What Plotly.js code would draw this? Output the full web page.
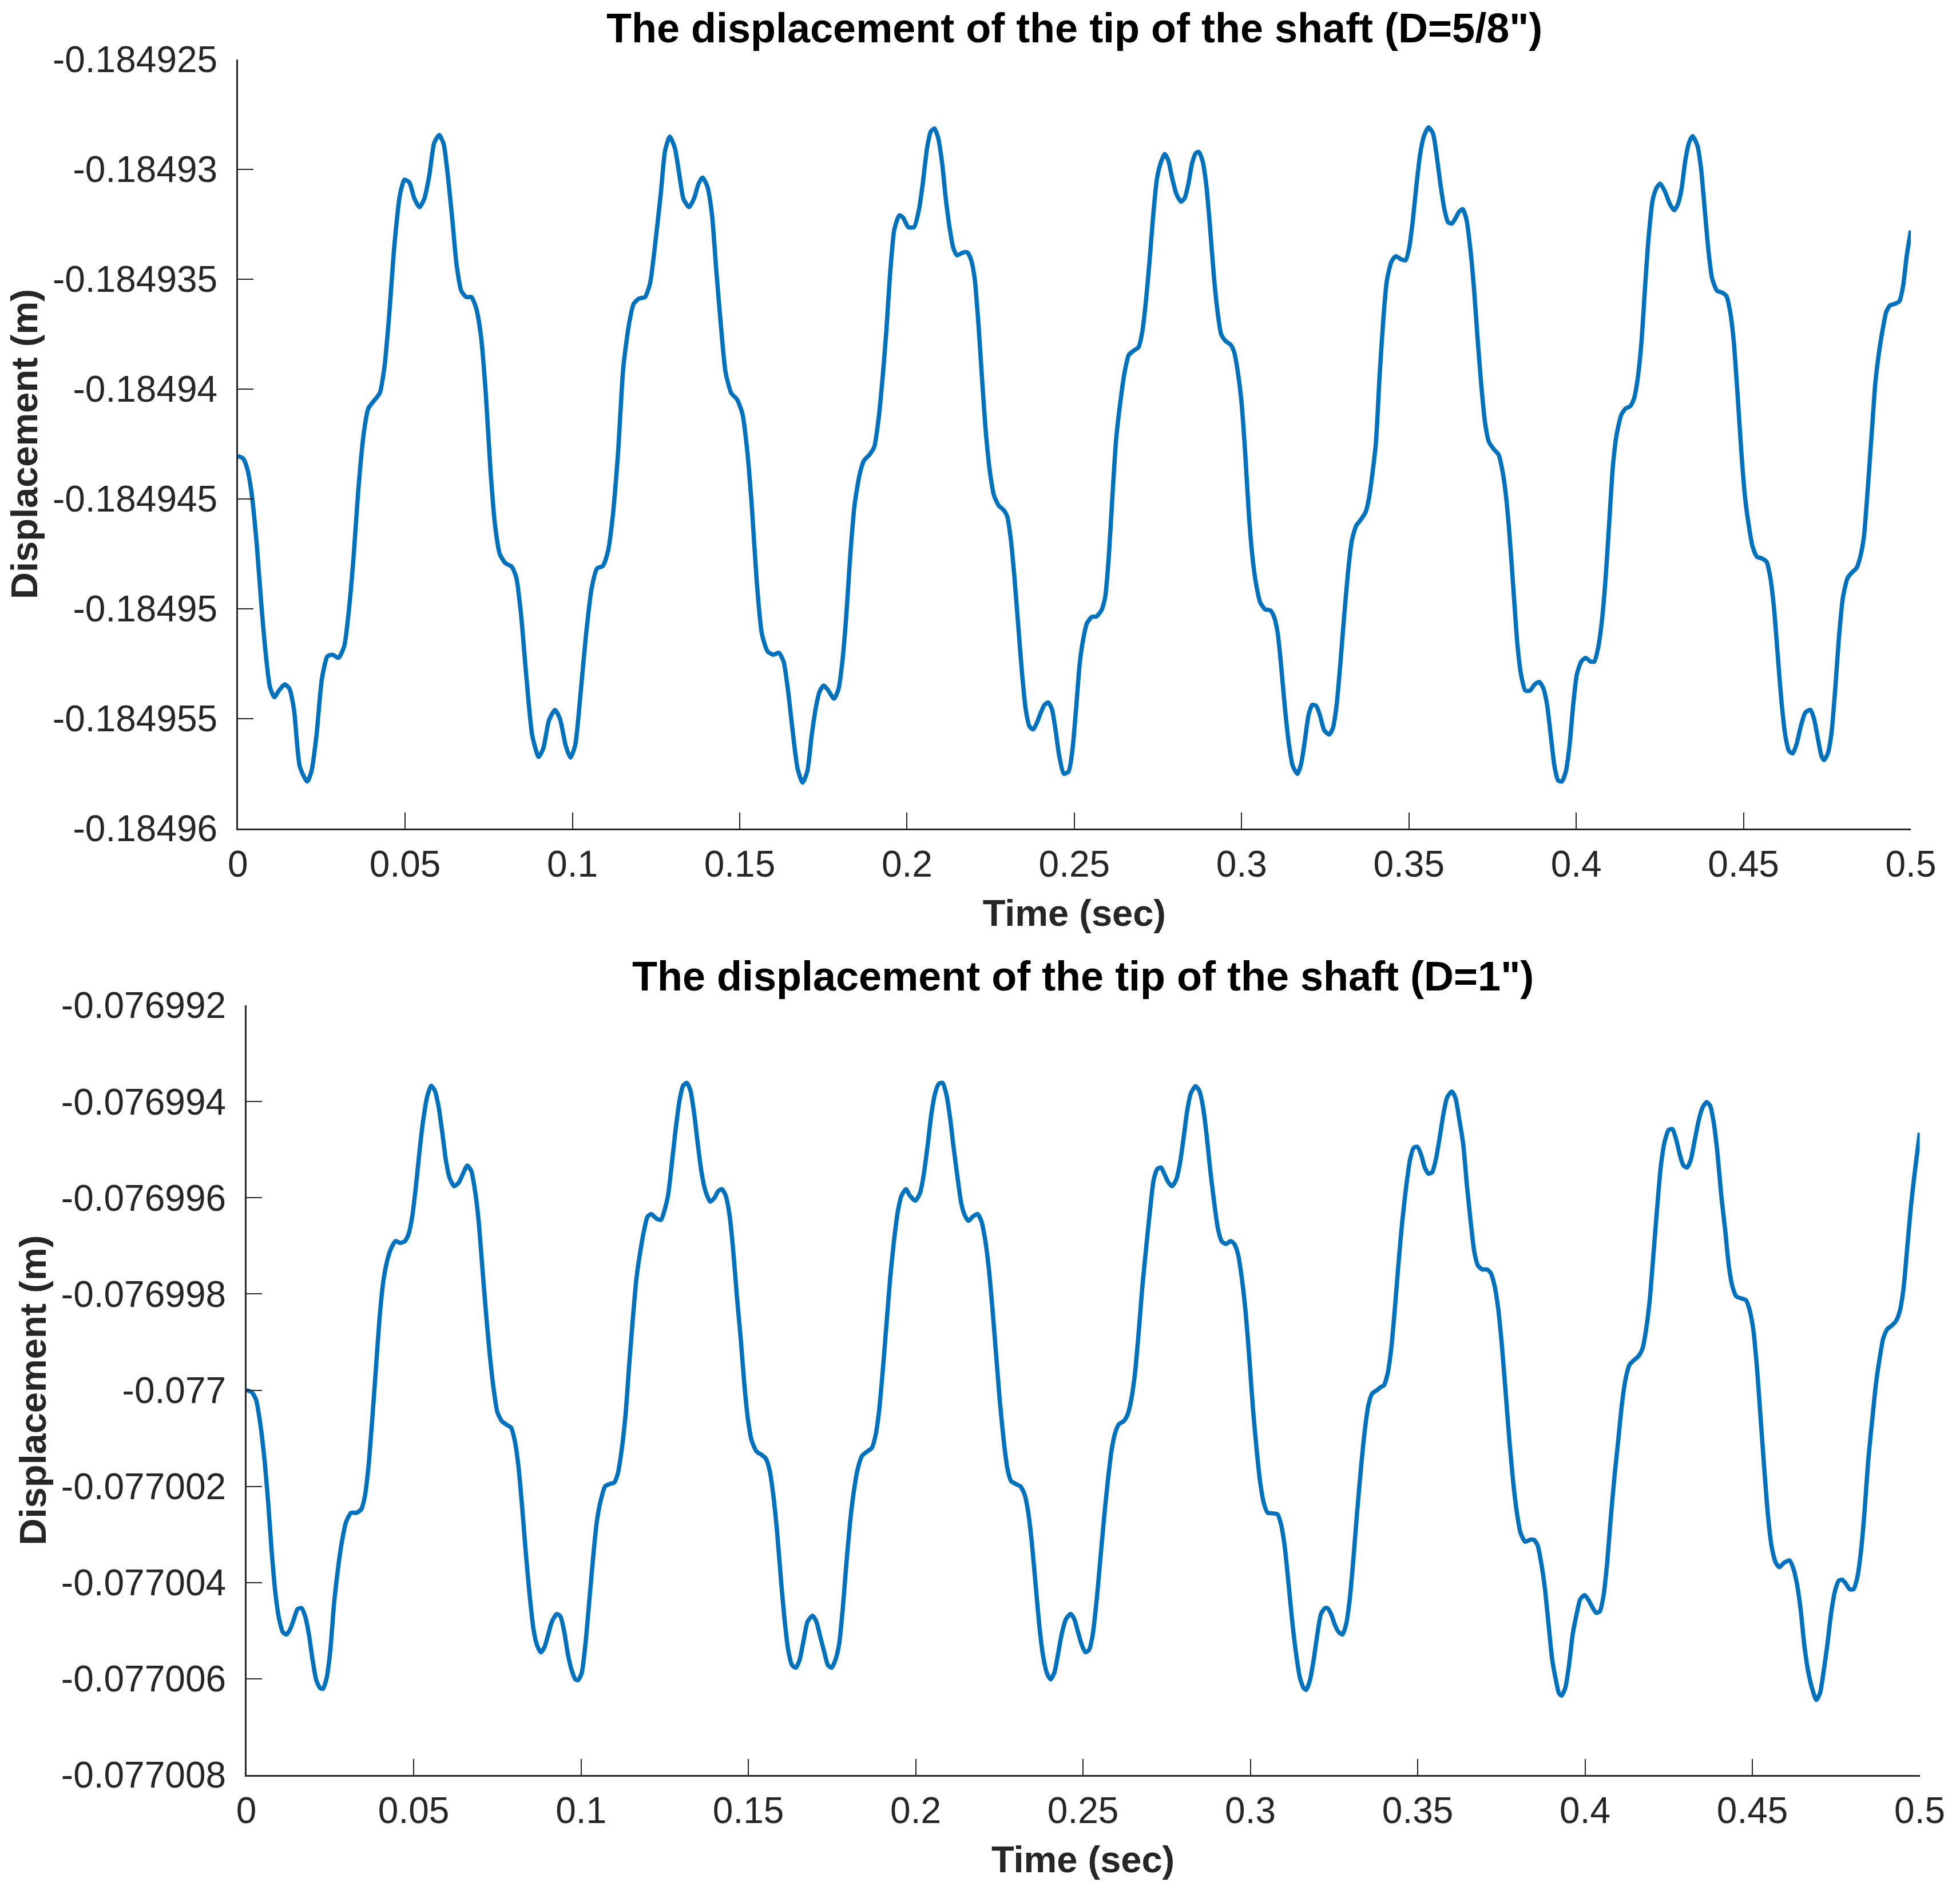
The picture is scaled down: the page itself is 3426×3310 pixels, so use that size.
<!DOCTYPE html>
<html>
<head>
<meta charset="utf-8">
<script src="https://cdn.plot.ly/plotly-3.0.1.min.js"></script>
<style>
  html, body { margin: 0; padding: 0; background: #fff; }
  #chart { width: 3426px; height: 3310px; }
</style>
</head>
<body>
<div id="chart"></div>
<script>
// time axis of the D=5/8" curve (sec)
var tTop = [
  0, 0.0016, 0.0029, 0.0042, 0.0057, 0.0071, 0.0085, 0.0096, 0.0109, 0.0123, 0.0140, 0.0154, 0.0168, 0.0185, 0.0207, 0.0220,
  0.0235, 0.0251, 0.0268, 0.0283, 0.0301, 0.0318, 0.0331, 0.0346, 0.0360, 0.0376, 0.0390, 0.0407, 0.0424, 0.0438, 0.0452, 0.0468,
  0.0485, 0.0498, 0.0513, 0.0527, 0.0543, 0.0557, 0.0572, 0.0587, 0.0602, 0.0615, 0.0627, 0.0641, 0.0654, 0.0668, 0.0683, 0.0698,
  0.0713, 0.0727, 0.0741, 0.0755, 0.0769, 0.0783, 0.0799, 0.0819, 0.0832, 0.0846, 0.0863, 0.0880, 0.0899, 0.0913, 0.0930, 0.0948,
  0.0963, 0.0980, 0.0994, 0.1008, 0.1024, 0.1041, 0.1058, 0.1074, 0.1091, 0.1106, 0.1119, 0.1136, 0.1152, 0.1169, 0.1183, 0.1199,
  0.1217, 0.1232, 0.1247, 0.1264, 0.1277, 0.1291, 0.1306, 0.1319, 0.1332, 0.1349, 0.1364, 0.1377, 0.1389, 0.1403, 0.1417, 0.1430,
  0.1444, 0.1458, 0.1475, 0.1492, 0.1508, 0.1522, 0.1536, 0.1551, 0.1566, 0.1583, 0.1600, 0.1617, 0.1631, 0.1644, 0.1658, 0.1673,
  0.1688, 0.1702, 0.1715, 0.1729, 0.1740, 0.1751, 0.1765, 0.1782, 0.1795, 0.1806, 0.1818, 0.1829, 0.1843, 0.1858, 0.1871, 0.1888,
  0.1902, 0.1915, 0.1927, 0.1938, 0.1949, 0.1962, 0.1977, 0.1988, 0.2004, 0.2021, 0.2036, 0.2047, 0.2060, 0.2071, 0.2082, 0.2093,
  0.2105, 0.2116, 0.2127, 0.2138, 0.2149, 0.2166, 0.2180, 0.2191, 0.2202, 0.2214, 0.2225, 0.2236, 0.2249, 0.2260, 0.2274, 0.2288,
  0.2299, 0.2310, 0.2321, 0.2333, 0.2344, 0.2355, 0.2366, 0.2377, 0.2388, 0.2400, 0.2411, 0.2422, 0.2433, 0.2444, 0.2455, 0.2469,
  0.2483, 0.2494, 0.2505, 0.2516, 0.2527, 0.2538, 0.2552, 0.2566, 0.2581, 0.2592, 0.2603, 0.2614, 0.2625, 0.2639, 0.2650, 0.2663,
  0.2677, 0.2692, 0.2703, 0.2714, 0.2725, 0.2736, 0.2747, 0.2759, 0.2770, 0.2781, 0.2792, 0.2805, 0.2819, 0.2830, 0.2841, 0.2852,
  0.2863, 0.2872, 0.2883, 0.2894, 0.2905, 0.2917, 0.2928, 0.2939, 0.2952, 0.2967, 0.2978, 0.2989, 0.3000, 0.3011, 0.3022, 0.3034,
  0.3045, 0.3056, 0.3070, 0.3086, 0.3097, 0.3108, 0.3119, 0.3130, 0.3142, 0.3153, 0.3167, 0.3178, 0.3189, 0.3200, 0.3211, 0.3223,
  0.3234, 0.3247, 0.3262, 0.3273, 0.3284, 0.3295, 0.3306, 0.3318, 0.3329, 0.3342, 0.3356, 0.3371, 0.3382, 0.3401, 0.3412, 0.3423,
  0.3434, 0.3448, 0.3461, 0.3476, 0.3490, 0.3501, 0.3512, 0.3523, 0.3534, 0.3546, 0.3559, 0.3572, 0.3583, 0.3594, 0.3606, 0.3617,
  0.3628, 0.3639, 0.3650, 0.3661, 0.3672, 0.3684, 0.3695, 0.3706, 0.3717, 0.3728, 0.3739, 0.3754, 0.3768, 0.3779, 0.3790, 0.3801,
  0.3813, 0.3824, 0.3835, 0.3848, 0.3862, 0.3876, 0.3890, 0.3902, 0.3913, 0.3924, 0.3935, 0.3946, 0.3957, 0.3969, 0.3980, 0.3991,
  0.4002, 0.4015, 0.4028, 0.4043, 0.4054, 0.4065, 0.4076, 0.4087, 0.4098, 0.4110, 0.4121, 0.4135, 0.4148, 0.4162, 0.4173, 0.4184,
  0.4195, 0.4206, 0.4217, 0.4229, 0.4240, 0.4251, 0.4265, 0.4280, 0.4293, 0.4304, 0.4315, 0.4326, 0.4337, 0.4348, 0.4362, 0.4373,
  0.4384, 0.4395, 0.4406, 0.4421, 0.4435, 0.4449, 0.4460, 0.4471, 0.4482, 0.4493, 0.4504, 0.4516, 0.4527, 0.4540, 0.4554, 0.4569,
  0.4580, 0.4591, 0.4602, 0.4613, 0.4625, 0.4636, 0.4647, 0.4658, 0.4672, 0.4685, 0.4700, 0.4711, 0.4722, 0.4733, 0.4741, 0.4752,
  0.4763, 0.4774, 0.4785, 0.4797, 0.4811, 0.4825, 0.4838, 0.4849, 0.4860, 0.4871, 0.4883, 0.4894, 0.4905, 0.4916, 0.4927, 0.4938,
  0.4952, 0.4966, 0.4977, 0.4988, 0.5000
];
// tip displacement, D=5/8" (m)
var yTop = [
  -0.18494305, -0.18494316, -0.18494367, -0.18494484, -0.18494716, -0.18494995, -0.18495228, -0.18495356, -0.18495402, -0.18495372, -0.18495344, -0.18495363, -0.18495460, -0.18495716, -0.18495786, -0.18495740,
  -0.18495577, -0.18495321, -0.18495216, -0.18495209, -0.18495223, -0.18495170, -0.18495019, -0.18494763, -0.18494460, -0.18494205, -0.18494088, -0.18494053, -0.18494019, -0.18493902, -0.18493670, -0.18493344,
  -0.18493112, -0.18493047, -0.18493060, -0.18493130, -0.18493172, -0.18493135, -0.18493030, -0.18492879, -0.18492844, -0.18492884, -0.18493019, -0.18493228, -0.18493437, -0.18493553, -0.18493581, -0.18493581,
  -0.18493635, -0.18493763, -0.18494019, -0.18494367, -0.18494623, -0.18494751, -0.18494791, -0.18494809, -0.18494856, -0.18495019, -0.18495321, -0.18495577, -0.18495674, -0.18495635, -0.18495507, -0.18495460,
  -0.18495502, -0.18495623, -0.18495677, -0.18495623, -0.18495391, -0.18495112, -0.18494902, -0.18494816, -0.18494805, -0.18494740, -0.18494600, -0.18494298, -0.18493902, -0.18493705, -0.18493612, -0.18493588,
  -0.18493581, -0.18493519, -0.18493344, -0.18493112, -0.18492914, -0.18492851, -0.18492902, -0.18493019, -0.18493135, -0.18493172, -0.18493130, -0.18493065, -0.18493037, -0.18493077, -0.18493205, -0.18493460,
  -0.18493716, -0.18493926, -0.18494019, -0.18494047, -0.18494112, -0.18494274, -0.18494530, -0.18494879, -0.18495112, -0.18495193, -0.18495209, -0.18495200, -0.18495240, -0.18495367, -0.18495553, -0.18495728,
  -0.18495791, -0.18495740, -0.18495577, -0.18495437, -0.18495372, -0.18495349, -0.18495372, -0.18495409, -0.18495367, -0.18495251, -0.18495042, -0.18494786, -0.18494530, -0.18494391, -0.18494326, -0.18494298,
  -0.18494263, -0.18494135, -0.18493949, -0.18493740, -0.18493484, -0.18493274, -0.18493209, -0.18493219, -0.18493263, -0.18493263, -0.18493181, -0.18493065, -0.18492902, -0.18492828, -0.18492814, -0.18492856,
  -0.18492972, -0.18493135, -0.18493263, -0.18493356, -0.18493391, -0.18493379, -0.18493377, -0.18493409, -0.18493495, -0.18493716, -0.18493972, -0.18494205, -0.18494391, -0.18494484, -0.18494530, -0.18494549,
  -0.18494577, -0.18494681, -0.18494856, -0.18495088, -0.18495298, -0.18495460, -0.18495535, -0.18495549, -0.18495519, -0.18495472, -0.18495437, -0.18495426, -0.18495456, -0.18495553, -0.18495670, -0.18495751,
  -0.18495740, -0.18495647, -0.18495460, -0.18495251, -0.18495135, -0.18495065, -0.18495037, -0.18495035, -0.18495007, -0.18494949, -0.18494763, -0.18494484, -0.18494228, -0.18494042, -0.18493926, -0.18493844,
  -0.18493826, -0.18493809, -0.18493740, -0.18493600, -0.18493414, -0.18493205, -0.18493042, -0.18492967, -0.18492930, -0.18492960, -0.18493037, -0.18493112, -0.18493147, -0.18493130, -0.18493065, -0.18492972,
  -0.18492926, -0.18492921, -0.18492960, -0.18493065, -0.18493251, -0.18493484, -0.18493647, -0.18493751, -0.18493781, -0.18493798, -0.18493833, -0.18493926, -0.18494065, -0.18494298, -0.18494577, -0.18494786,
  -0.18494902, -0.18494972, -0.18495002, -0.18495007, -0.18495037, -0.18495112, -0.18495274, -0.18495460, -0.18495623, -0.18495716, -0.18495751, -0.18495705, -0.18495600, -0.18495484, -0.18495437, -0.18495442,
  -0.18495484, -0.18495553, -0.18495572, -0.18495542, -0.18495437, -0.18495251, -0.18495042, -0.18494833, -0.18494693, -0.18494623, -0.18494595, -0.18494558, -0.18494484, -0.18494251, -0.18493949, -0.18493693,
  -0.18493507, -0.18493419, -0.18493395, -0.18493409, -0.18493414, -0.18493356, -0.18493228, -0.18493065, -0.18492926, -0.18492844, -0.18492809, -0.18492837, -0.18492937, -0.18493065, -0.18493181, -0.18493240,
  -0.18493247, -0.18493223, -0.18493193, -0.18493181, -0.18493228, -0.18493367, -0.18493553, -0.18493786, -0.18493995, -0.18494158, -0.18494240, -0.18494274, -0.18494298, -0.18494367, -0.18494484, -0.18494670,
  -0.18494926, -0.18495158, -0.18495298, -0.18495372, -0.18495372, -0.18495344, -0.18495333, -0.18495363, -0.18495437, -0.18495577, -0.18495716, -0.18495781, -0.18495786, -0.18495740, -0.18495623, -0.18495437,
  -0.18495298, -0.18495240, -0.18495223, -0.18495240, -0.18495240, -0.18495181, -0.18495065, -0.18494879, -0.18494623, -0.18494344, -0.18494205, -0.18494116, -0.18494088, -0.18494077, -0.18494042, -0.18493949,
  -0.18493786, -0.18493530, -0.18493298, -0.18493135, -0.18493084, -0.18493065, -0.18493100, -0.18493158, -0.18493186, -0.18493158, -0.18493088, -0.18492960, -0.18492879, -0.18492849, -0.18492891, -0.18492995,
  -0.18493181, -0.18493367, -0.18493495, -0.18493553, -0.18493560, -0.18493577, -0.18493647, -0.18493786, -0.18494019, -0.18494274, -0.18494484, -0.18494623, -0.18494716, -0.18494763, -0.18494770, -0.18494786,
  -0.18494856, -0.18494995, -0.18495205, -0.18495414, -0.18495577, -0.18495647, -0.18495658, -0.18495619, -0.18495530, -0.18495472, -0.18495460, -0.18495502, -0.18495588, -0.18495670, -0.18495688, -0.18495658,
  -0.18495565, -0.18495367, -0.18495135, -0.18494949, -0.18494860, -0.18494833, -0.18494814, -0.18494763, -0.18494670, -0.18494460, -0.18494205, -0.18493972, -0.18493833, -0.18493728, -0.18493647, -0.18493619,
  -0.18493612, -0.18493600, -0.18493530, -0.18493391, -0.18493279
];

// time axis of the D=1" curve (sec)
var tBot = [
  0, 0.0016, 0.0029, 0.0040, 0.0053, 0.0065, 0.0076, 0.0087, 0.0098, 0.0109, 0.0120, 0.0131, 0.0142, 0.0153, 0.0165, 0.0176,
  0.0187, 0.0198, 0.0209, 0.0220, 0.0229, 0.0240, 0.0251, 0.0262, 0.0274, 0.0285, 0.0298, 0.0313, 0.0329, 0.0343, 0.0354, 0.0365,
  0.0376, 0.0387, 0.0398, 0.0409, 0.0420, 0.0432, 0.0446, 0.0460, 0.0474, 0.0485, 0.0496, 0.0507, 0.0518, 0.0529, 0.0541, 0.0552,
  0.0563, 0.0574, 0.0585, 0.0596, 0.0607, 0.0621, 0.0635, 0.0646, 0.0660, 0.0672, 0.0683, 0.0694, 0.0705, 0.0716, 0.0727, 0.0739,
  0.0750, 0.0763, 0.0776, 0.0791, 0.0802, 0.0813, 0.0824, 0.0835, 0.0846, 0.0858, 0.0869, 0.0880, 0.0891, 0.0902, 0.0913, 0.0928,
  0.0939, 0.0950, 0.0961, 0.0972, 0.0983, 0.0991, 0.1002, 0.1013, 0.1024, 0.1036, 0.1047, 0.1058, 0.1072, 0.1086, 0.1099, 0.1110,
  0.1121, 0.1133, 0.1143, 0.1155, 0.1166, 0.1177, 0.1188, 0.1199, 0.1210, 0.1225, 0.1239, 0.1249, 0.1260, 0.1271, 0.1282, 0.1294,
  0.1305, 0.1316, 0.1327, 0.1338, 0.1349, 0.1360, 0.1371, 0.1386, 0.1399, 0.1410, 0.1421, 0.1432, 0.1444, 0.1455, 0.1466, 0.1477,
  0.1488, 0.1499, 0.1510, 0.1525, 0.1539, 0.1552, 0.1564, 0.1575, 0.1586, 0.1597, 0.1608, 0.1619, 0.1631, 0.1642, 0.1653, 0.1664,
  0.1677, 0.1692, 0.1703, 0.1715, 0.1727, 0.1738, 0.1749, 0.1760, 0.1771, 0.1782, 0.1793, 0.1804, 0.1815, 0.1827, 0.1840, 0.1854,
  0.1869, 0.1880, 0.1891, 0.1902, 0.1913, 0.1924, 0.1935, 0.1947, 0.1958, 0.1971, 0.1982, 0.1999, 0.2013, 0.2024, 0.2036, 0.2047,
  0.2058, 0.2069, 0.2080, 0.2091, 0.2102, 0.2113, 0.2125, 0.2136, 0.2147, 0.2158, 0.2171, 0.2185, 0.2196, 0.2207, 0.2218, 0.2229,
  0.2240, 0.2251, 0.2263, 0.2274, 0.2285, 0.2299, 0.2313, 0.2325, 0.2336, 0.2347, 0.2358, 0.2369, 0.2380, 0.2392, 0.2403, 0.2414,
  0.2425, 0.2436, 0.2449, 0.2463, 0.2474, 0.2485, 0.2496, 0.2507, 0.2518, 0.2529, 0.2541, 0.2552, 0.2563, 0.2574, 0.2585, 0.2596,
  0.2607, 0.2622, 0.2633, 0.2644, 0.2655, 0.2666, 0.2677, 0.2689, 0.2700, 0.2711, 0.2722, 0.2733, 0.2744, 0.2755, 0.2766, 0.2778,
  0.2789, 0.2800, 0.2811, 0.2822, 0.2836, 0.2847, 0.2858, 0.2869, 0.2880, 0.2892, 0.2903, 0.2914, 0.2927, 0.2941, 0.2952, 0.2963,
  0.2974, 0.2986, 0.2997, 0.3008, 0.3019, 0.3030, 0.3041, 0.3052, 0.3067, 0.3081, 0.3092, 0.3103, 0.3114, 0.3126, 0.3137, 0.3148,
  0.3159, 0.3167, 0.3178, 0.3189, 0.3200, 0.3211, 0.3223, 0.3230, 0.3241, 0.3252, 0.3264, 0.3275, 0.3286, 0.3297, 0.3308, 0.3319,
  0.3331, 0.3342, 0.3353, 0.3364, 0.3378, 0.3391, 0.3399, 0.3410, 0.3421, 0.3432, 0.3443, 0.3454, 0.3466, 0.3477, 0.3488, 0.3499,
  0.3510, 0.3521, 0.3532, 0.3543, 0.3554, 0.3566, 0.3577, 0.3588, 0.3602, 0.3613, 0.3624, 0.3636, 0.3647, 0.3658, 0.3669, 0.3680,
  0.3693, 0.3707, 0.3718, 0.3729, 0.3740, 0.3751, 0.3762, 0.3774, 0.3785, 0.3796, 0.3807, 0.3821, 0.3836, 0.3847, 0.3858, 0.3869,
  0.3880, 0.3891, 0.3902, 0.3913, 0.3922, 0.3930, 0.3941, 0.3952, 0.3963, 0.3975, 0.3986, 0.3999, 0.4010, 0.4021, 0.4033, 0.4044,
  0.4055, 0.4066, 0.4077, 0.4088, 0.4099, 0.4110, 0.4121, 0.4133, 0.4147, 0.4160, 0.4172, 0.4183, 0.4194, 0.4205, 0.4216, 0.4227,
  0.4238, 0.4250, 0.4261, 0.4272, 0.4283, 0.4294, 0.4305, 0.4316, 0.4327, 0.4339, 0.4350, 0.4363, 0.4374, 0.4385, 0.4396, 0.4407,
  0.4419, 0.4430, 0.4441, 0.4452, 0.4466, 0.4481, 0.4492, 0.4503, 0.4514, 0.4525, 0.4536, 0.4547, 0.4558, 0.4570, 0.4581, 0.4594,
  0.4611, 0.4622, 0.4633, 0.4644, 0.4655, 0.4666, 0.4678, 0.4691, 0.4702, 0.4713, 0.4724, 0.4735, 0.4747, 0.4758, 0.4768, 0.4779,
  0.4791, 0.4802, 0.4813, 0.4824, 0.4835, 0.4846, 0.4858, 0.4869, 0.4880, 0.4891, 0.4903, 0.4916, 0.4930, 0.4941, 0.4952, 0.4963,
  0.4974, 0.4986, 0.5000
];
// tip displacement, D=1" (m)
var yBot = [
  -0.07700000, -0.07700004, -0.07700020, -0.07700062, -0.07700136, -0.07700232, -0.07700338, -0.07700423, -0.07700476, -0.07700503, -0.07700508, -0.07700497, -0.07700476, -0.07700455, -0.07700453, -0.07700471,
  -0.07700508, -0.07700561, -0.07700603, -0.07700619, -0.07700621, -0.07700598, -0.07700540, -0.07700444, -0.07700370, -0.07700317, -0.07700274, -0.07700255, -0.07700255, -0.07700248, -0.07700221, -0.07700158,
  -0.07700062, -0.07699956, -0.07699850, -0.07699775, -0.07699733, -0.07699706, -0.07699690, -0.07699694, -0.07699690, -0.07699675, -0.07699637, -0.07699574, -0.07699499, -0.07699436, -0.07699388, -0.07699367,
  -0.07699377, -0.07699409, -0.07699462, -0.07699521, -0.07699558, -0.07699576, -0.07699568, -0.07699552, -0.07699533, -0.07699544, -0.07699584, -0.07699648, -0.07699744, -0.07699839, -0.07699924, -0.07699998,
  -0.07700046, -0.07700064, -0.07700071, -0.07700078, -0.07700105, -0.07700158, -0.07700243, -0.07700338, -0.07700423, -0.07700497, -0.07700531, -0.07700545, -0.07700534, -0.07700508, -0.07700481, -0.07700465,
  -0.07700471, -0.07700503, -0.07700550, -0.07700582, -0.07700601, -0.07700603, -0.07700588, -0.07700529, -0.07700444, -0.07700349, -0.07700274, -0.07700232, -0.07700200, -0.07700195, -0.07700192, -0.07700173,
  -0.07700126, -0.07700051, -0.07699956, -0.07699850, -0.07699765, -0.07699712, -0.07699669, -0.07699639, -0.07699634, -0.07699643, -0.07699646, -0.07699627, -0.07699595, -0.07699531, -0.07699462, -0.07699399,
  -0.07699367, -0.07699361, -0.07699377, -0.07699425, -0.07699489, -0.07699547, -0.07699584, -0.07699608, -0.07699600, -0.07699586, -0.07699582, -0.07699595, -0.07699637, -0.07699712, -0.07699807, -0.07699892,
  -0.07699988, -0.07700062, -0.07700105, -0.07700128, -0.07700134, -0.07700142, -0.07700168, -0.07700221, -0.07700296, -0.07700391, -0.07700476, -0.07700540, -0.07700572, -0.07700577, -0.07700561, -0.07700524,
  -0.07700481, -0.07700469, -0.07700481, -0.07700513, -0.07700545, -0.07700572, -0.07700577, -0.07700561, -0.07700529, -0.07700455, -0.07700359, -0.07700274, -0.07700211, -0.07700163, -0.07700136, -0.07700128,
  -0.07700120, -0.07700094, -0.07700041, -0.07699956, -0.07699860, -0.07699765, -0.07699690, -0.07699627, -0.07699595, -0.07699582, -0.07699595, -0.07699606, -0.07699590, -0.07699552, -0.07699489, -0.07699425,
  -0.07699383, -0.07699363, -0.07699361, -0.07699383, -0.07699430, -0.07699494, -0.07699558, -0.07699611, -0.07699637, -0.07699648, -0.07699639, -0.07699634, -0.07699648, -0.07699685, -0.07699744, -0.07699828,
  -0.07699924, -0.07700020, -0.07700105, -0.07700163, -0.07700189, -0.07700195, -0.07700200, -0.07700216, -0.07700253, -0.07700317, -0.07700402, -0.07700487, -0.07700550, -0.07700588, -0.07700601, -0.07700588,
  -0.07700550, -0.07700508, -0.07700476, -0.07700465, -0.07700476, -0.07700503, -0.07700529, -0.07700545, -0.07700540, -0.07700508, -0.07700434, -0.07700349, -0.07700264, -0.07700189, -0.07700126, -0.07700089,
  -0.07700071, -0.07700064, -0.07700051, -0.07700020, -0.07699966, -0.07699882, -0.07699786, -0.07699701, -0.07699627, -0.07699563, -0.07699540, -0.07699537, -0.07699552, -0.07699568, -0.07699576, -0.07699563,
  -0.07699531, -0.07699478, -0.07699420, -0.07699383, -0.07699368, -0.07699377, -0.07699409, -0.07699468, -0.07699542, -0.07699611, -0.07699664, -0.07699690, -0.07699696, -0.07699690, -0.07699696, -0.07699717,
  -0.07699765, -0.07699839, -0.07699935, -0.07700041, -0.07700126, -0.07700195, -0.07700237, -0.07700255, -0.07700256, -0.07700258, -0.07700280, -0.07700327, -0.07700402, -0.07700487, -0.07700550, -0.07700598,
  -0.07700619, -0.07700623, -0.07700603, -0.07700561, -0.07700508, -0.07700465, -0.07700453, -0.07700453, -0.07700465, -0.07700487, -0.07700503, -0.07700508, -0.07700487, -0.07700434, -0.07700349, -0.07700253,
  -0.07700158, -0.07700083, -0.07700030, -0.07700007, -0.07700000, -0.07699993, -0.07699990, -0.07699966, -0.07699913, -0.07699828, -0.07699733, -0.07699648, -0.07699574, -0.07699521, -0.07699496, -0.07699494,
  -0.07699510, -0.07699537, -0.07699550, -0.07699547, -0.07699521, -0.07699473, -0.07699425, -0.07699391, -0.07699379, -0.07699393, -0.07699436, -0.07699489, -0.07699574, -0.07699648, -0.07699712, -0.07699741,
  -0.07699749, -0.07699749, -0.07699756, -0.07699781, -0.07699828, -0.07699903, -0.07699998, -0.07700105, -0.07700189, -0.07700253, -0.07700296, -0.07700315, -0.07700311, -0.07700311, -0.07700322, -0.07700359,
  -0.07700412, -0.07700487, -0.07700561, -0.07700603, -0.07700630, -0.07700635, -0.07700619, -0.07700572, -0.07700508, -0.07700465, -0.07700434, -0.07700426, -0.07700436, -0.07700450, -0.07700463, -0.07700460,
  -0.07700428, -0.07700359, -0.07700264, -0.07700179, -0.07700105, -0.07700030, -0.07699977, -0.07699947, -0.07699937, -0.07699929, -0.07699913, -0.07699871, -0.07699807, -0.07699712, -0.07699616, -0.07699531,
  -0.07699483, -0.07699459, -0.07699457, -0.07699478, -0.07699510, -0.07699533, -0.07699537, -0.07699521, -0.07699483, -0.07699441, -0.07699414, -0.07699401, -0.07699409, -0.07699446, -0.07699510, -0.07699595,
  -0.07699669, -0.07699744, -0.07699786, -0.07699805, -0.07699809, -0.07699813, -0.07699834, -0.07699876, -0.07699956, -0.07700062, -0.07700168, -0.07700264, -0.07700327, -0.07700359, -0.07700368, -0.07700359,
  -0.07700354, -0.07700370, -0.07700402, -0.07700455, -0.07700529, -0.07700582, -0.07700619, -0.07700644, -0.07700630, -0.07700584, -0.07700529, -0.07700465, -0.07700417, -0.07700396, -0.07700394, -0.07700402,
  -0.07700414, -0.07700414, -0.07700391, -0.07700338, -0.07700253, -0.07700147, -0.07700062, -0.07699988, -0.07699935, -0.07699892, -0.07699873, -0.07699866, -0.07699855, -0.07699834, -0.07699786, -0.07699701,
  -0.07699616, -0.07699542, -0.07699465
];

// tick labels
var xTicks = [0, 0.05, 0.1, 0.15, 0.2, 0.25, 0.3, 0.35, 0.4, 0.45, 0.5];
var xTickText = ['0', '0.05', '0.1', '0.15', '0.2', '0.25', '0.3', '0.35', '0.4', '0.45', '0.5'];
var yTicksTop = [-0.184925, -0.18493, -0.184935, -0.18494, -0.184945, -0.18495, -0.184955, -0.18496];
var yTickTextTop = ['-0.184925', '-0.18493', '-0.184935', '-0.18494', '-0.184945', '-0.18495', '-0.184955', '-0.18496'];
var yTicksBot = [-0.076992, -0.076994, -0.076996, -0.076998, -0.077, -0.077002, -0.077004, -0.077006, -0.077008];
var yTickTextBot = ['-0.076992', '-0.076994', '-0.076996', '-0.076998', '-0.077', '-0.077002', '-0.077004', '-0.077006', '-0.077008'];

var axisColor = '#262626';
var font = 'Liberation Sans, Arial, Helvetica, sans-serif';

function xAxis(domain, anchor) {
  return {
    domain: domain, anchor: anchor, range: [0, 0.5],
    tickmode: 'array', tickvals: xTicks, ticktext: xTickText,
    ticks: 'inside', ticklen: 28, tickwidth: 2, tickcolor: axisColor,
    showline: true, linewidth: 2.5, linecolor: axisColor, mirror: false,
    showgrid: false, zeroline: false, automargin: false,
    ticklabelstandoff: 4,
    tickfont: {family: font, size: 64, color: axisColor},
    title: {text: '<b>Time (sec)</b>', standoff: 28, font: {family: font, size: 65, color: axisColor}}
  };
}

function yAxis(domain, anchor, range, vals, text) {
  return {
    domain: domain, anchor: anchor, range: range,
    tickmode: 'array', tickvals: vals, ticktext: text,
    ticks: 'inside', ticklen: 28, tickwidth: 2, tickcolor: axisColor,
    showline: true, linewidth: 2.5, linecolor: axisColor, mirror: false,
    showgrid: false, zeroline: false, automargin: false,
    ticklabelstandoff: 20,
    tickfont: {family: font, size: 64, color: axisColor},
    title: {text: '<b>Displacement (m)</b>', standoff: 6, font: {family: font, size: 65, color: axisColor}}
  };
}

var data = [{
  type: 'scatter', mode: 'lines', x: tTop, y: yTop, xaxis: 'x', yaxis: 'y',
  line: {color: '#0072BD', width: 7.5, shape: 'spline', smoothing: 0.6},
  hoverinfo: 'skip'
}, {
  type: 'scatter', mode: 'lines', x: tBot, y: yBot, xaxis: 'x2', yaxis: 'y2',
  line: {color: '#0072BD', width: 7.5, shape: 'spline', smoothing: 0.6},
  hoverinfo: 'skip'
}];

var layout = {
  width: 3426, height: 3310,
  margin: {l: 0, r: 0, t: 0, b: 0},
  paper_bgcolor: '#ffffff', plot_bgcolor: '#ffffff',
  showlegend: false,
  xaxis: xAxis([0.12134, 0.97490], 'y'),
  yaxis: yAxis([0.56254, 0.96858], 'x', [-0.18496, -0.184925], yTicksTop, yTickTextTop),
  xaxis2: xAxis([0.12569, 0.97945], 'y2'),
  yaxis2: yAxis([0.06284, 0.46918], 'x2', [-0.077008, -0.076992], yTicksBot, yTickTextBot),
  annotations: [{
    text: '<b>The displacement of the tip of the shaft (D=5/8")</b>',
    xref: 'paper', yref: 'paper', x: 0.5481, y: 0.98520, xanchor: 'center', yanchor: 'middle',
    showarrow: false, font: {family: font, size: 72, color: '#000000'}
  }, {
    text: '<b>The displacement of the tip of the shaft (D=1")</b>',
    xref: 'paper', yref: 'paper', x: 0.5526, y: 0.48460, xanchor: 'center', yanchor: 'middle',
    showarrow: false, font: {family: font, size: 72, color: '#000000'}
  }]
};

Plotly.newPlot('chart', data, layout, {displayModeBar: false, responsive: false});
</script>
</body>
</html>
